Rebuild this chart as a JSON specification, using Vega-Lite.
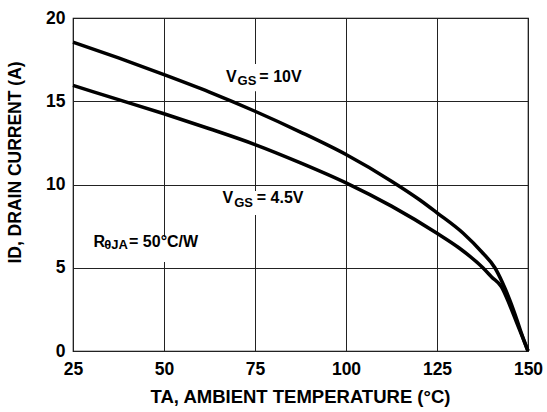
{
  "$schema": "https://vega.github.io/schema/vega-lite/v6.json",
  "width": 455,
  "height": 333,
  "autosize": {"type": "none"},
  "padding": {"left": 73, "top": 18, "right": 19, "bottom": 61},
  "background": "white",
  "config": {
    "font": "Liberation Sans",
    "view": {"stroke": "#000", "strokeWidth": 1.2},
    "axis": {
      "labelFont": "Liberation Sans",
      "labelFontSize": 17.5,
      "labelFontWeight": "bold",
      "labelColor": "#000",
      "titleFont": "Liberation Sans",
      "titleFontSize": 17.5,
      "titleFontWeight": "bold",
      "titleColor": "#000",
      "ticks": false,
      "tickSize": 0,
      "domain": false,
      "grid": true,
      "gridColor": "#222",
      "gridWidth": 1,
      "gridOpacity": 1,
      "labelFlush": false,
      "labelOverlap": false
    }
  },
  "datasets": {
    "curves": [
      {"T": 25, "I": 18.55, "vgs": "10V"},
      {"T": 37.5, "I": 17.6, "vgs": "10V"},
      {"T": 50, "I": 16.6, "vgs": "10V"},
      {"T": 62.5, "I": 15.55, "vgs": "10V"},
      {"T": 75, "I": 14.4, "vgs": "10V"},
      {"T": 87.5, "I": 13.15, "vgs": "10V"},
      {"T": 100, "I": 11.8, "vgs": "10V"},
      {"T": 112.5, "I": 10.2, "vgs": "10V"},
      {"T": 120.3, "I": 9.07, "vgs": "10V"},
      {"T": 125, "I": 8.3, "vgs": "10V"},
      {"T": 132.2, "I": 7.07, "vgs": "10V"},
      {"T": 137.5, "I": 5.9, "vgs": "10V"},
      {"T": 140.9, "I": 5.0, "vgs": "10V"},
      {"T": 143, "I": 4.1, "vgs": "10V"},
      {"T": 145, "I": 3.06, "vgs": "10V"},
      {"T": 147, "I": 1.85, "vgs": "10V"},
      {"T": 148.2, "I": 1.06, "vgs": "10V"},
      {"T": 150, "I": 0, "vgs": "10V"},
      {"T": 25, "I": 15.95, "vgs": "4.5V"},
      {"T": 37.5, "I": 15.1, "vgs": "4.5V"},
      {"T": 50, "I": 14.25, "vgs": "4.5V"},
      {"T": 62.5, "I": 13.35, "vgs": "4.5V"},
      {"T": 75, "I": 12.4, "vgs": "4.5V"},
      {"T": 87.5, "I": 11.3, "vgs": "4.5V"},
      {"T": 100, "I": 10.1, "vgs": "4.5V"},
      {"T": 112.5, "I": 8.7, "vgs": "4.5V"},
      {"T": 125, "I": 7.07, "vgs": "4.5V"},
      {"T": 131, "I": 6.2, "vgs": "4.5V"},
      {"T": 137.6, "I": 5.0, "vgs": "4.5V"},
      {"T": 140, "I": 4.45, "vgs": "4.5V"},
      {"T": 142.7, "I": 3.86, "vgs": "4.5V"},
      {"T": 145, "I": 2.75, "vgs": "4.5V"},
      {"T": 147, "I": 1.65, "vgs": "4.5V"},
      {"T": 150, "I": 0, "vgs": "4.5V"}
    ],
    "boxes": [
      {"x1": 66.5, "x2": 89.0, "y1": 17.24, "y2": 15.6},
      {"x1": 65.3, "x2": 88.4, "y1": 9.61, "y2": 8.17},
      {"x1": 29.9, "x2": 59.5, "y1": 6.85, "y2": 5.35}
    ],
    "labels": [
      {"x": 67.0, "y": 16.17, "text": "V", "kind": "main"},
      {"x": 70.2, "y": 15.98, "text": "GS", "kind": "sub"},
      {"x": 76.2, "y": 16.17, "text": "= 10V", "kind": "main"},
      {"x": 66.1, "y": 8.87, "text": "V", "kind": "main"},
      {"x": 69.3, "y": 8.67, "text": "GS", "kind": "sub"},
      {"x": 75.5, "y": 8.87, "text": "= 4.5V", "kind": "main"},
      {"x": 30.6, "y": 6.26, "text": "R", "kind": "main"},
      {"x": 33.6, "y": 6.11, "text": "θJA", "kind": "sub"},
      {"x": 40.4, "y": 6.26, "text": "= 50°C/W", "kind": "main"}
    ]
  },
  "layer": [
    {
      "data": {"name": "boxes"},
      "mark": {"type": "rect", "color": "white"},
      "encoding": {
        "x": {"field": "x1", "type": "quantitative", "scale": {"domain": [25, 150], "nice": false, "zero": false},
          "axis": {"values": [25, 50, 75, 100, 125, 150], "labelPadding": 9,
            "title": "TA, AMBIENT TEMPERATURE (°C)", "titleX": 77, "titleY": 51, "titleFontSize": 18.5,
            "titleAlign": "left", "titleBaseline": "alphabetic"}},
        "x2": {"field": "x2"},
        "y": {"field": "y1", "type": "quantitative", "scale": {"domain": [0, 20], "nice": false},
          "axis": {"values": [0, 5, 10, 15, 20], "labelPadding": 8,
            "title": "ID, DRAIN CURRENT (A)", "titleX": -53, "titleY": 144,
            "titleAngle": -90, "titleAlign": "center", "titleBaseline": "alphabetic"}},
        "y2": {"field": "y2"}
      }
    },
    {
      "data": {"name": "curves"},
      "mark": {"type": "line", "interpolate": "monotone", "strokeWidth": 3.5, "color": "#000"},
      "encoding": {
        "x": {"field": "T", "type": "quantitative"},
        "y": {"field": "I", "type": "quantitative"},
        "detail": {"field": "vgs"}
      }
    },
    {
      "data": {"name": "labels"},
      "transform": [{"filter": "datum.kind === 'main'"}],
      "mark": {"type": "text", "align": "left", "baseline": "alphabetic", "fontSize": 16, "fontWeight": "bold", "color": "#000", "font": "Liberation Sans"},
      "encoding": {
        "x": {"field": "x", "type": "quantitative"},
        "y": {"field": "y", "type": "quantitative"},
        "text": {"field": "text"}
      }
    },
    {
      "data": {"name": "labels"},
      "transform": [{"filter": "datum.kind === 'sub'"}],
      "mark": {"type": "text", "align": "left", "baseline": "alphabetic", "fontSize": 13, "fontWeight": "bold", "color": "#000", "font": "Liberation Sans"},
      "encoding": {
        "x": {"field": "x", "type": "quantitative"},
        "y": {"field": "y", "type": "quantitative"},
        "text": {"field": "text"}
      }
    }
  ]
}
